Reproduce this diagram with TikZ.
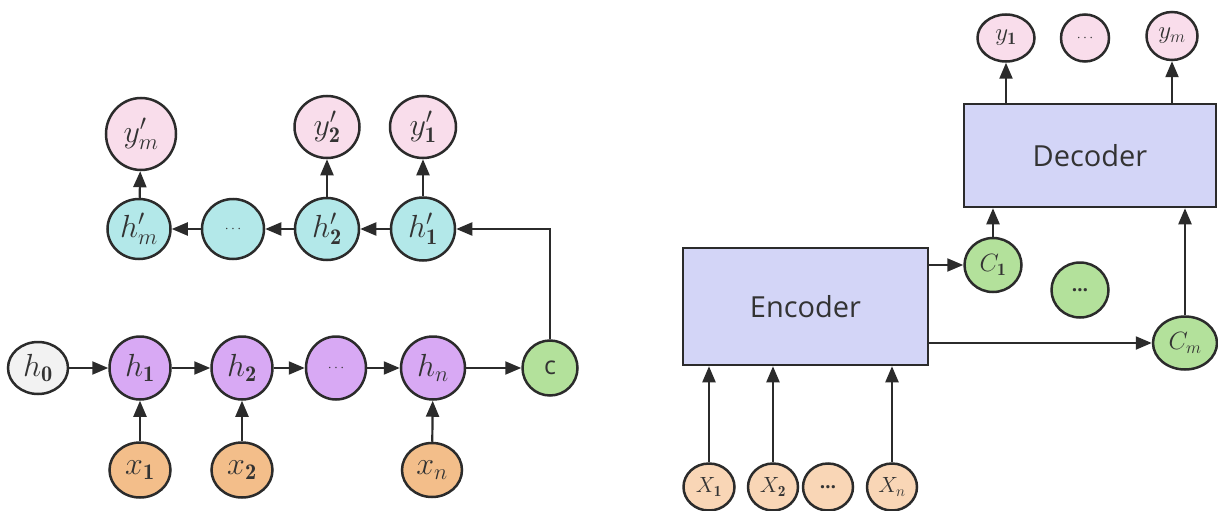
\RequirePackage{fix-cm}
\documentclass[tikz,border=0pt]{standalone}
\usepackage{fontspec}
\setsansfont{Open Sans}
\usetikzlibrary{shapes.geometric,arrows.meta}
\definecolor{lc}{HTML}{2B2B2B}
\definecolor{tc}{HTML}{333333}
\definecolor{cpurple}{HTML}{D8A9F4}
\definecolor{ccyan}{HTML}{B3E8E9}
\definecolor{cpink}{HTML}{F9DDEB}
\definecolor{corange}{HTML}{F3BE8A}
\definecolor{cpeach}{HTML}{F9D6B6}
\definecolor{cgreen}{HTML}{B3E19B}
\definecolor{cgray}{HTML}{F2F2F2}
\definecolor{cbox}{HTML}{D3D5F7}
\newcommand{\sdots}{{\fontsize{14}{15}\selectfont$\cdots$}}
\newcommand{\bdots}{{\sffamily\bfseries\fontsize{19}{20}\selectfont\ldots}}
\begin{document}
\begin{tikzpicture}[x=1pt,y=-1pt,
  nd/.style 2 args={ellipse, draw=lc, line width=2.5pt, inner sep=0pt,
    minimum width=#1, minimum height=#2, text=tc},
  big/.style={font=\fontsize{32}{36}\selectfont},
  mid/.style={font=\fontsize{25}{28}\selectfont},
  sml/.style={font=\fontsize{22}{26}\selectfont},
  blk/.style={draw=lc, line width=2.5pt, fill=cbox, text=tc,
    font=\sffamily\fontsize{29}{34}\selectfont},
  arr/.style={draw=lc, line width=2.2pt, -{Triangle[length=16pt,width=13pt]}}
]
\useasboundingbox (0,0) rectangle (1218,511);
% ---------- left: RNN seq2seq ----------
\node[nd={60}{52}, fill=cgray, big] (h0) at (38,368) {$h_{\mathbf 0}$};
\node[nd={61}{63}, fill=cpurple, big] (h1) at (140,368) {$h_{\mathbf 1}$};
\node[nd={61}{63}, fill=cpurple, big] (h2) at (242,368) {$h_{\mathbf 2}$};
\node[nd={60}{63}, fill=cpurple] (hd) at (336,368) {\sdots};
\node[nd={64}{63}, fill=cpurple, big] (hn) at (433,368) {$h_n$};
\node[nd={55}{55}, fill=cgreen, font=\sffamily\fontsize{25}{30}\selectfont] (c) at (550,368) {c};
\node[nd={61}{55}, fill=corange, big] (x1) at (140,470) {$x_{\mathbf 1}$};
\node[nd={61}{55}, fill=corange, big] (x2) at (242,470) {$x_{\mathbf 2}$};
\node[nd={60}{54}, fill=corange, big] (xn) at (432,470) {$x_n$};

\node[nd={63}{60}, fill=ccyan, big] (hpm) at (139,229) {$h'_m$};
\node[nd={62}{60}, fill=ccyan] (hpd) at (233,229) {\sdots};
\node[nd={64}{62}, fill=ccyan, big] (hp2) at (327,229) {$h'_{\mathbf 2}$};
\node[nd={64}{63}, fill=ccyan, big] (hp1) at (423,229) {$h'_{\mathbf 1}$};
\node[nd={70}{72}, fill=cpink, big] (ypm) at (141,134) {$y'_m$};
\node[nd={65}{62}, fill=cpink, big] (yp2) at (327,127) {$y'_{\mathbf 2}$};
\node[nd={66}{62}, fill=cpink, big] (yp1) at (423,127) {$y'_{\mathbf 1}$};

\draw[arr] (h0) -- (h1);
\draw[arr] (h1) -- (h2);
\draw[arr] (h2) -- (hd);
\draw[arr] (hd) -- (hn);
\draw[arr] (hn) -- (c);
\draw[arr] (x1) -- (h1);
\draw[arr] (x2) -- (h2);
\draw[arr] (xn) -- (hn);
\draw[arr] (c) |- (hp1);
\draw[arr] (hp1) -- (hp2);
\draw[arr] (hp2) -- (hpd);
\draw[arr] (hpd) -- (hpm);
\draw[arr] (hpm) -- (ypm);
\draw[arr] (hp2) -- (yp2);
\draw[arr] (hp1) -- (yp1);

% ---------- right: encoder-decoder with attention ----------
\node[blk, minimum width=245pt, minimum height=117pt, inner sep=0pt] (enc) at (805.5,306.5) {Encoder};
\node[blk, minimum width=252pt, minimum height=103pt, inner sep=0pt] (dec) at (1090,155.5) {Decoder};

\node[nd={51}{47}, fill=cpeach, sml] (X1) at (709,487) {$X_{\mathbf 1}$};
\node[nd={50}{47}, fill=cpeach, sml] (X2) at (773,487) {$X_{\mathbf 2}$};
\node[nd={50}{47}, fill=cpeach] (Xd) at (828,487) {\bdots};
\node[nd={50}{47}, fill=cpeach, sml] (Xn) at (892,487) {$X_n$};

\node[nd={57}{54}, fill=cgreen, mid] (C1) at (993,265) {$C_{\mathbf 1}$};
\node[nd={57}{55}, fill=cgreen] (Cd) at (1080,290) {\bdots};
\node[nd={64}{53}, fill=cgreen, mid] (Cm) at (1185,343) {$C_m$};

\node[nd={57}{47}, fill=cpink, mid] (y1) at (1006,38) {$y_{\mathbf 1}$};
\node[nd={48}{47}, fill=cpink] (yd) at (1085,38) {\sdots};
\node[nd={51}{48}, fill=cpink, mid] (ym) at (1172,36) {$y_m$};

\draw[arr] (X1) -- (X1 |- enc.south);
\draw[arr] (X2) -- (X2 |- enc.south);
\draw[arr] (Xn) -- (Xn |- enc.south);
\draw[arr] (enc.east |- C1) -- (C1);
\draw[arr] (enc.east |- Cm) -- (Cm);
\draw[arr] (C1) -- (C1 |- dec.south);
\draw[arr] (Cm) -- (Cm |- dec.south);
\draw[arr] (y1 |- dec.north) -- (y1);
\draw[arr] (ym |- dec.north) -- (ym);
\end{tikzpicture}
\end{document}
